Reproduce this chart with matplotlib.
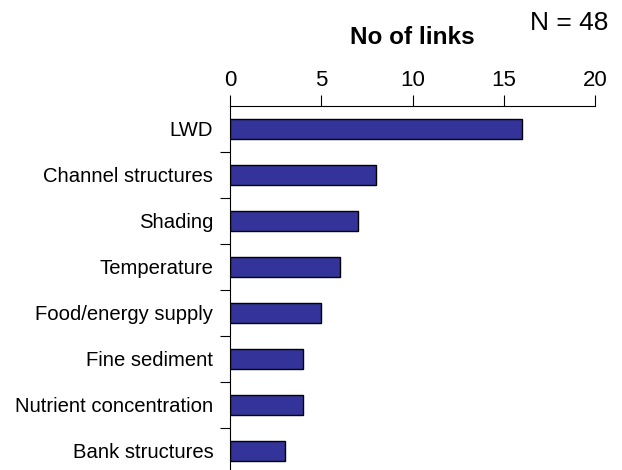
import numpy as np
import matplotlib.pyplot as plt
from matplotlib.ticker import FixedLocator, NullFormatter

plt.rcParams['font.family'] = ['Liberation Sans', 'DejaVu Sans']

categories = ["LWD", "Channel structures", "Shading", "Temperature",
              "Food/energy supply", "Fine sediment", "Nutrient concentration",
              "Bank structures"]
links = [16, 8, 7, 6, 5, 4, 4, 3]
x_ticks = [0, 5, 10, 15, 20]

fig = plt.figure(figsize=(6.22, 4.70), dpi=100)
ax = fig.add_axes([230 / 622, -4 / 470, 365 / 622, 368 / 470])

y = np.arange(len(categories))
ax.barh(y, links, height=0.43, color='#333399', edgecolor='black', linewidth=1.0)

ax.set_xlim(0, 20)
ax.set_ylim(len(categories) - 0.5, -0.5)
ax.xaxis.tick_top()
ax.set_xticks(x_ticks)
ax.tick_params(axis='x', direction='out', length=8, width=0.8, labelsize=16, pad=3)

ax.set_yticks(y)
ax.set_yticklabels(categories)
ax.tick_params(axis='y', which='major', length=0, labelsize=14.6, pad=12)
ax.yaxis.set_minor_locator(FixedLocator(np.arange(0.5, len(categories) - 0.5, 1)))
ax.yaxis.set_minor_formatter(NullFormatter())
ax.tick_params(axis='y', which='minor', direction='out', length=7, width=0.8)

ax.spines['bottom'].set_visible(False)
ax.spines['right'].set_visible(False)
ax.spines['top'].set_linewidth(0.8)
ax.spines['left'].set_linewidth(0.8)

fig.text(412 / 622, 1 - 38 / 470, "No of links", ha='center', va='center',
         fontsize=17.5, fontweight='bold')
fig.text(608 / 622, 1 - 23 / 470, "N = 48", ha='right', va='center', fontsize=19)

fig.savefig("out.png", dpi=100)
